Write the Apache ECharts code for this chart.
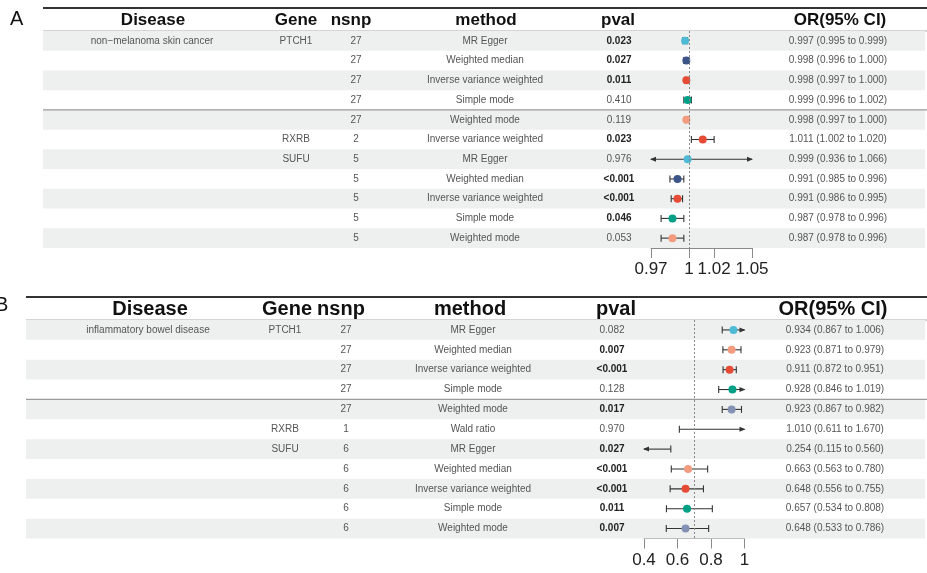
<!DOCTYPE html>
<html>
<head>
<meta charset="utf-8">
<script src="https://cdn.jsdelivr.net/npm/echarts@6/dist/echarts.min.js"></script>
<style>
  html, body { margin: 0; padding: 0; background: #fff; }
  #main { width: 927px; height: 573px; }
</style>
</head>
<body>
<div id="main"></div>
<script>
// ---- data: panel A (non-melanoma skin cancer)
const rows = [0, 1, 2, 3, 4, 5, 6, 7, 8, 9, 10];
const diseaseA = ['non−melanoma skin cancer', '', '', '', '', '', '', '', '', '', ''];
const geneA = ['PTCH1', '', '', '', '', 'RXRB', 'SUFU', '', '', '', ''];
const nsnpA = ['27', '27', '27', '27', '27', '2', '5', '5', '5', '5', '5'];
const methodA = ['MR Egger', 'Weighted median', 'Inverse variance weighted', 'Simple mode', 'Weighted mode',
  'Inverse variance weighted', 'MR Egger', 'Weighted median', 'Inverse variance weighted', 'Simple mode', 'Weighted mode'];
const pvalA = ['0.023', '0.027', '0.011', '0.410', '0.119', '0.023', '0.976', '<0.001', '<0.001', '0.046', '0.053'];
const orA = [0.997, 0.998, 0.998, 0.999, 0.998, 1.011, 0.999, 0.991, 0.991, 0.987, 0.987];
const loA = [0.995, 0.996, 0.997, 0.996, 0.997, 1.002, 0.936, 0.985, 0.986, 0.978, 0.978];
const hiA = [0.999, 1.000, 1.000, 1.002, 1.000, 1.020, 1.066, 0.996, 0.995, 0.996, 0.996];
const ticksA = [0.97, 1, 1.02, 1.05];

// ---- data: panel B (inflammatory bowel disease)
const diseaseB = ['inflammatory bowel disease', '', '', '', '', '', '', '', '', '', ''];
const geneB = ['PTCH1', '', '', '', '', 'RXRB', 'SUFU', '', '', '', ''];
const nsnpB = ['27', '27', '27', '27', '27', '1', '6', '6', '6', '6', '6'];
const methodB = ['MR Egger', 'Weighted median', 'Inverse variance weighted', 'Simple mode', 'Weighted mode',
  'Wald ratio', 'MR Egger', 'Weighted median', 'Inverse variance weighted', 'Simple mode', 'Weighted mode'];
const pvalB = ['0.082', '0.007', '<0.001', '0.128', '0.017', '0.970', '0.027', '<0.001', '<0.001', '0.011', '0.007'];
const orB = [0.934, 0.923, 0.911, 0.928, 0.923, 1.010, 0.254, 0.663, 0.648, 0.657, 0.648];
const loB = [0.867, 0.871, 0.872, 0.846, 0.867, 0.611, 0.115, 0.563, 0.556, 0.534, 0.533];
const hiB = [1.006, 0.979, 0.951, 1.019, 0.982, 1.670, 0.560, 0.780, 0.755, 0.808, 0.786];
const ticksB = [0.4, 0.6, 0.8, 1];

const headers = ['Disease', 'Gene', 'nsnp', 'method', 'pval', 'OR(95% CI)'];

const colorsA = { 'MR Egger': '#4DBBD5', 'Weighted median': '#3C5488', 'Inverse variance weighted': '#E64B35',
  'Simple mode': '#00A087', 'Weighted mode': '#F39B7F', 'Wald ratio': '#7E6148' };
const colorsB = { 'MR Egger': '#4DBBD5', 'Weighted median': '#F39B7F', 'Inverse variance weighted': '#E64B35',
  'Simple mode': '#00A087', 'Weighted mode': '#8491B4', 'Wald ratio': '#7E6148' };

const FONT = '"Liberation Sans", Arial, sans-serif';

// layout of the two panels
const panelA = {
  label: 'A', labelX: 10, labelY: 20, left: 43, ruleY: 8, headY: 20, headLine: 31,
  top: 31, bottom: 248, headSize: 17, plotLeft: 651, plotRight: 752, min: 0.97, max: 1.05, ref: 1,
  headX: [153, 296, 351, 486, 618, 840], colX: [152, 296, 356, 485, 619, 838]
};
const panelB = {
  label: 'B', labelX: -5, labelY: 306, left: 26, ruleY: 297, headY: 309, headLine: 320,
  top: 320, bottom: 538.5, headSize: 20, plotLeft: 644, plotRight: 744.5, min: 0.4, max: 1, ref: 0.7,
  headX: [150, 287, 341, 470, 616, 833], colX: [148, 285, 346, 473, 612, 835]
};

function isSig(p) {
  return p.indexOf('<') === 0 || parseFloat(p) < 0.05;
}

function tableRender(p, cols) {
  return function (params, api) {
    const i = api.value(0);
    const h = api.size([0, 1])[1];
    const y = api.coord([0, i])[1];
    const x0 = api.coord([p.left, i])[0];
    const x1 = api.coord([927, i])[0];
    const children = [];
    if (i % 2 === 0) {
      children.push({ type: 'rect', shape: { x: x0, y: y - h / 2, width: x1 - x0 - 2, height: h },
        style: { fill: '#EDF0EF' } });
    }
    if (i === 4) {
      children.push({ type: 'line', shape: { x1: x0, y1: y - h / 2, x2: x1, y2: y - h / 2 },
        style: { stroke: '#9a9a9a', lineWidth: 1.2 } });
    }
    cols.forEach(function (c, k) {
      const txt = c[i];
      if (!txt) return;
      const bold = k === 4 && isSig(txt);
      children.push({
        type: 'text', x: api.coord([p.colX[k], i])[0], y: y,
        style: { text: txt, fontSize: 10, fontFamily: FONT, fontWeight: bold ? 'bold' : 'normal',
          fill: bold ? '#222' : '#555', align: 'center', verticalAlign: 'middle' }
      });
    });
    return { type: 'group', children: children };
  };
}

function forestRender(p, method, colors) {
  return function (params, api) {
    const i = api.value(0), or = api.value(1), lo = api.value(2), hi = api.value(3);
    const cs = params.coordSys;
    const y = api.coord([or, i])[1];
    const xl = lo < p.min ? cs.x : api.coord([lo, i])[0];
    const xr = hi > p.max ? cs.x + cs.width : api.coord([hi, i])[0];
    const stroke = '#333';
    const children = [
      { type: 'line', shape: { x1: xl, y1: y, x2: xr, y2: y }, style: { stroke: stroke, lineWidth: 1.1 } }
    ];
    if (lo < p.min) {
      children.push({ type: 'polygon', shape: { points: [[xl - 1, y], [xl + 5, y - 2.5], [xl + 5, y + 2.5]] }, style: { fill: stroke } });
    } else {
      children.push({ type: 'line', shape: { x1: xl, y1: y - 3.5, x2: xl, y2: y + 3.5 }, style: { stroke: stroke, lineWidth: 1.1 } });
    }
    if (hi > p.max) {
      children.push({ type: 'polygon', shape: { points: [[xr + 1, y], [xr - 5, y - 2.5], [xr - 5, y + 2.5]] }, style: { fill: stroke } });
    } else {
      children.push({ type: 'line', shape: { x1: xr, y1: y - 3.5, x2: xr, y2: y + 3.5 }, style: { stroke: stroke, lineWidth: 1.1 } });
    }
    if (or >= p.min && or <= p.max) {
      children.push({ type: 'circle', shape: { cx: api.coord([or, i])[0], cy: y, r: 4 },
        style: { fill: colors[method[i]] } });
    }
    return { type: 'group', children: children };
  };
}

function headerGraphics(p) {
  const g = [
    { type: 'text', left: p.labelX, top: p.labelY - 11, style: { text: p.label, fontSize: 20, fontFamily: FONT, fill: '#111' } },
    { type: 'line', shape: { x1: p.left, y1: p.ruleY, x2: 927, y2: p.ruleY }, style: { stroke: '#333', lineWidth: 2 } },
    { type: 'line', shape: { x1: p.left, y1: p.headLine, x2: 927, y2: p.headLine }, style: { stroke: '#aaa', lineWidth: 1 } }
  ];
  headers.forEach(function (h, k) {
    g.push({ type: 'text', x: p.headX[k], y: p.headY,
      style: { text: h, fontSize: p.headSize, fontWeight: 'bold', fontFamily: FONT, fill: '#111',
        align: 'center', verticalAlign: 'middle' } });
  });
  return g;
}

const chart = echarts.init(document.getElementById('main'), null, { renderer: 'canvas' });

function gridsFor(p) {
  return [
    { left: 0, top: p.top, width: 927, height: p.bottom - p.top },
    { left: p.plotLeft, top: p.top, width: p.plotRight - p.plotLeft, height: p.bottom - p.top }
  ];
}

function xAxesFor(p, gi, ticks) {
  return [
    { gridIndex: gi, type: 'value', min: 0, max: 927, show: false },
    {
      gridIndex: gi + 1, type: 'value', min: p.min, max: p.max,
      axisLine: { show: true, lineStyle: { color: '#8a8a8a', width: 1 } },
      axisTick: { show: true, length: 10, customValues: ticks, lineStyle: { color: '#8a8a8a', width: 1 } },
      axisLabel: { customValues: ticks, fontSize: 17, fontFamily: FONT, color: '#222', margin: 13 },
      splitLine: { show: false }
    }
  ];
}

function yAxesFor(gi) {
  return [
    { gridIndex: gi, type: 'category', data: rows, inverse: true, show: false },
    { gridIndex: gi + 1, type: 'category', data: rows, inverse: true, show: false }
  ];
}

function seriesFor(p, gi, cols, method, or, lo, hi, colors) {
  return [
    {
      type: 'custom', xAxisIndex: gi, yAxisIndex: gi, silent: true,
      data: rows.map(function (i) { return [i]; }),
      encode: { y: 0 },
      renderItem: tableRender(p, cols), z: 1
    },
    {
      type: 'custom', xAxisIndex: gi + 1, yAxisIndex: gi + 1, silent: true,
      data: rows.map(function (i) { return [i, or[i], lo[i], hi[i]]; }),
      encode: { y: 0, x: 1 },
      renderItem: forestRender(p, method, colors), z: 3,
      markLine: {
        silent: true, symbol: 'none', label: { show: false },
        lineStyle: { color: '#888', type: [2, 2], width: 1 },
        data: [{ xAxis: p.ref }]
      }
    }
  ];
}

const colsA = [diseaseA, geneA, nsnpA, methodA, pvalA,
  orA.map(function (v, i) { return v.toFixed(3) + ' (' + loA[i].toFixed(3) + ' to ' + hiA[i].toFixed(3) + ')'; })];
const colsB = [diseaseB, geneB, nsnpB, methodB, pvalB,
  orB.map(function (v, i) { return v.toFixed(3) + ' (' + loB[i].toFixed(3) + ' to ' + hiB[i].toFixed(3) + ')'; })];

const option = {
  backgroundColor: '#fff',
  animation: false,
  grid: gridsFor(panelA).concat(gridsFor(panelB)),
  xAxis: xAxesFor(panelA, 0, ticksA).concat(xAxesFor(panelB, 2, ticksB)),
  yAxis: yAxesFor(0).concat(yAxesFor(2)),
  series: seriesFor(panelA, 0, colsA, methodA, orA, loA, hiA, colorsA)
    .concat(seriesFor(panelB, 2, colsB, methodB, orB, loB, hiB, colorsB)),
  graphic: headerGraphics(panelA).concat(headerGraphics(panelB))
};
chart.setOption(option);
</script>
</body>
</html>
